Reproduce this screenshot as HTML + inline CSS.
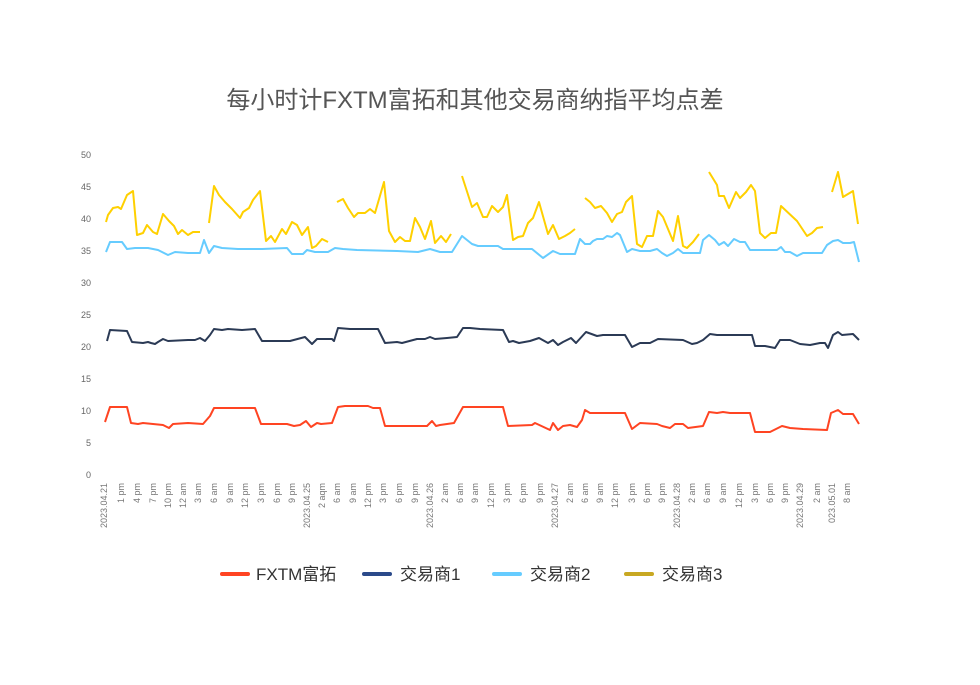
<!DOCTYPE html>
<html><head><meta charset="utf-8"><style>
body{margin:0;background:#fff;}
svg{display:block;font-family:"Liberation Sans","Noto Sans CJK SC",sans-serif;}
</style></head><body>
<svg width="980" height="685" viewBox="0 0 980 685" xmlns="http://www.w3.org/2000/svg">
<text x="475" y="108" text-anchor="middle" font-size="24" fill="#555">每小时计FXTM富拓和其他交易商纳指平均点差</text>
<g font-size="9" fill="#666" text-anchor="end">
<text x="91" y="478">0</text><text x="91" y="446">5</text><text x="91" y="414">10</text><text x="91" y="382">15</text><text x="91" y="350">20</text><text x="91" y="318">25</text><text x="91" y="286">30</text><text x="91" y="254">35</text><text x="91" y="222">40</text><text x="91" y="190">45</text><text x="91" y="158">50</text>
</g>
<g font-size="9" fill="#777" text-anchor="end" id="xl"></g>
<g fill="none" stroke-width="2" stroke-linejoin="round">
<polyline stroke="#ffd000" points="106,222 108,215 113,208 118,207 121,209 127,195 133,191 137,235 143,233 147,225 153,232 157,234 163,214 169,221 174,226 178,234 182,230 188,235 193,232 200,232"/>
<polyline stroke="#ffd000" points="209,223 214,186 219,195 225,202 232,209 240,218 243,212 249,208 253,200 260,191 266,241 271,236 275,242 282,229 286,234 292,222 297,225 302,235 308,227 312,248 316,246 322,239 328,242"/>
<polyline stroke="#ffd000" points="337,202 343,199 348,208 354,217 358,213 365,213 370,209 375,213 384,182 389,231 395,242 400,237 405,241 410,241 415,218 420,227 425,239 431,221 435,243 441,236 446,242 451,234"/>
<polyline stroke="#ffd000" points="462,176 472,207 477,203 483,217 487,217 492,206 498,212 503,207 507,195 513,240 518,237 523,236 528,223 533,218 539,202 548,234 553,225 559,239 565,236 570,233 575,229"/>
<polyline stroke="#ffd000" points="585,198 590,202 595,208 601,206 607,213 612,222 617,214 622,212 626,202 632,196 637,244 642,247 647,236 653,236 658,211 663,217 673,241 678,216 683,246 687,248 693,242 699,234"/>
<polyline stroke="#ffd000" points="709,172 717,185 719,196 724,196 729,208 736,192 740,198 746,192 751,185 755,191 760,233 765,238 771,233 776,233 781,206 797,221 807,236 812,233 817,228 823,227"/>
<polyline stroke="#ffd000" points="832,192 838,172 843,197 853,191 858,224"/>
<polyline stroke="#66ccff" points="106,252 110,242 113,242 118,242 122,242 127,249 135,248 148,248 158,250 168,255 175,252 188,253 200,253 204,240 209,253 214,246 222,248 238,249 262,249 287,248 292,254 303,254 307,250 315,252 328,252 335,248 343,249 357,250 397,251 418,252 430,249 440,252 452,252 462,236 472,244 478,246 490,246 498,246 503,249 532,249 543,258 553,251 560,254 575,254 580,239 585,244 590,244 593,241 597,239 603,239 607,236 612,237 617,233 620,235 627,252 632,249 640,251 650,251 657,249 662,253 667,256 673,253 678,249 683,253 700,253 703,240 709,235 715,240 719,245 724,242 728,246 734,239 740,242 745,242 750,250 777,250 781,247 785,252 790,252 797,256 803,253 822,253 827,245 833,241 838,240 843,243 850,243 854,242 859,262"/>
<polyline stroke="#2b3a55" points="107,341 110,330 127,331 132,342 143,343 148,342 151,343 155,344 158,342 163,339 168,341 188,340 195,340 200,338 205,341 210,335 214,329 222,330 228,329 242,330 255,329 262,341 290,341 305,337 312,344 317,339 332,339 334,341 338,328 350,329 378,329 385,343 397,342 402,343 417,339 425,339 430,337 435,339 447,338 457,337 463,328 470,328 480,329 503,330 509,342 513,341 519,343 530,341 539,338 548,343 553,340 558,345 563,342 571,338 576,343 586,332 597,336 603,335 625,335 632,347 640,343 650,343 658,339 683,340 692,344 697,343 703,340 710,334 717,335 752,335 755,346 765,346 775,348 780,340 790,340 800,344 810,345 820,343 825,343 828,348 833,335 838,332 842,335 853,334 859,340"/>
<polyline stroke="#ff4422" points="105,422 110,407 127,407 131,423 138,424 143,423 163,425 169,428 173,424 188,423 203,424 210,416 214,408 255,408 261,424 287,424 294,426 300,425 306,421 311,427 317,423 321,424 332,423 338,407 345,406 368,406 373,408 380,408 385,426 427,426 432,421 436,426 440,425 454,423 463,407 503,407 508,426 532,425 535,423 550,430 553,423 558,430 563,426 570,425 577,427 582,420 585,410 590,413 625,413 632,429 640,423 657,424 662,426 670,428 675,424 683,424 688,428 703,426 709,412 717,413 723,412 730,413 750,413 755,432 770,432 782,426 790,428 803,429 827,430 831,413 838,410 843,414 853,414 859,424"/>
</g>
<g font-size="17" fill="#333">
<line x1="222" y1="574" x2="248" y2="574" stroke="#ff4422" stroke-width="4" stroke-linecap="round"/><text x="256" y="580">FXTM富拓</text>
<line x1="364" y1="574" x2="390" y2="574" stroke="#2b4a8a" stroke-width="4" stroke-linecap="round"/><text x="400" y="580">交易商1</text>
<line x1="494" y1="574" x2="520" y2="574" stroke="#66ccff" stroke-width="4" stroke-linecap="round"/><text x="530" y="580">交易商2</text>
<line x1="626" y1="574" x2="652" y2="574" stroke="#c8a822" stroke-width="4" stroke-linecap="round"/><text x="662" y="580">交易商3</text>
</g>
<g font-size="9" fill="#777" text-anchor="end">
<text transform="translate(107,483) rotate(-90)">2023.04.21</text>
<text transform="translate(124,483) rotate(-90)">1 pm</text>
<text transform="translate(140,483) rotate(-90)">4 pm</text>
<text transform="translate(156,483) rotate(-90)">7 pm</text>
<text transform="translate(171,483) rotate(-90)">10 pm</text>
<text transform="translate(186,483) rotate(-90)">12 am</text>
<text transform="translate(201,483) rotate(-90)">3 am</text>
<text transform="translate(217,483) rotate(-90)">6 am</text>
<text transform="translate(233,483) rotate(-90)">9 am</text>
<text transform="translate(248,483) rotate(-90)">12 pm</text>
<text transform="translate(264,483) rotate(-90)">3 pm</text>
<text transform="translate(280,483) rotate(-90)">6 pm</text>
<text transform="translate(295,483) rotate(-90)">9 pm</text>
<text transform="translate(310,483) rotate(-90)">2023.04.25</text>
<text transform="translate(325,483) rotate(-90)">2 aqm</text>
<text transform="translate(340,483) rotate(-90)">6 am</text>
<text transform="translate(356,483) rotate(-90)">9 am</text>
<text transform="translate(371,483) rotate(-90)">12 pm</text>
<text transform="translate(386,483) rotate(-90)">3 pm</text>
<text transform="translate(402,483) rotate(-90)">6 pm</text>
<text transform="translate(418,483) rotate(-90)">9 pm</text>
<text transform="translate(433,483) rotate(-90)">2023.04.26</text>
<text transform="translate(448,483) rotate(-90)">2 am</text>
<text transform="translate(463,483) rotate(-90)">6 am</text>
<text transform="translate(478,483) rotate(-90)">9 am</text>
<text transform="translate(494,483) rotate(-90)">12 pm</text>
<text transform="translate(510,483) rotate(-90)">3 pm</text>
<text transform="translate(526,483) rotate(-90)">6 pm</text>
<text transform="translate(543,483) rotate(-90)">9 pm</text>
<text transform="translate(558,483) rotate(-90)">2023.04.27</text>
<text transform="translate(573,483) rotate(-90)">2 am</text>
<text transform="translate(588,483) rotate(-90)">6 am</text>
<text transform="translate(603,483) rotate(-90)">9 am</text>
<text transform="translate(618,483) rotate(-90)">12 pm</text>
<text transform="translate(635,483) rotate(-90)">3 pm</text>
<text transform="translate(650,483) rotate(-90)">6 pm</text>
<text transform="translate(665,483) rotate(-90)">9 pm</text>
<text transform="translate(680,483) rotate(-90)">2023.04.28</text>
<text transform="translate(695,483) rotate(-90)">2 am</text>
<text transform="translate(710,483) rotate(-90)">6 am</text>
<text transform="translate(726,483) rotate(-90)">9 am</text>
<text transform="translate(742,483) rotate(-90)">12 pm</text>
<text transform="translate(758,483) rotate(-90)">3 pm</text>
<text transform="translate(773,483) rotate(-90)">6 pm</text>
<text transform="translate(788,483) rotate(-90)">9 pm</text>
<text transform="translate(803,483) rotate(-90)">2023.04.29</text>
<text transform="translate(820,483) rotate(-90)">2 am</text>
<text transform="translate(835,483) rotate(-90)">023.05.01</text>
<text transform="translate(850,483) rotate(-90)">8 am</text>
</g>
</svg>
</body></html>
